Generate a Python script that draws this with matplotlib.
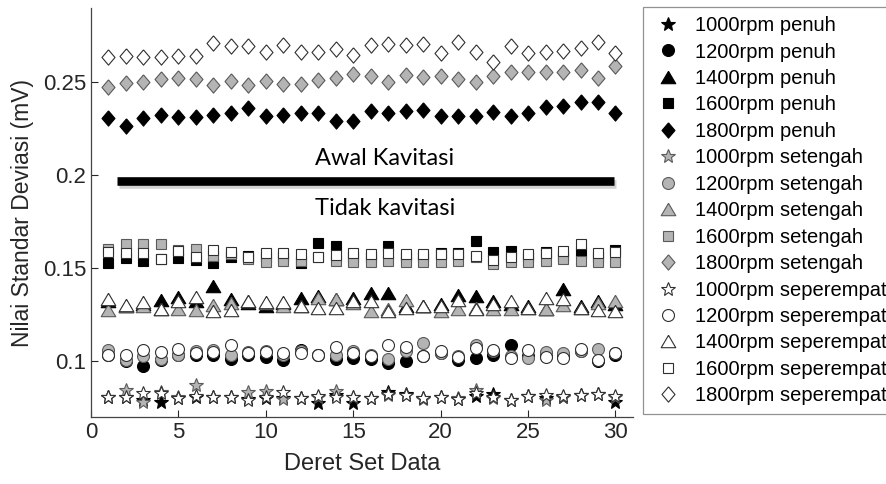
import numpy as np
import matplotlib
matplotlib.use("Agg")
import matplotlib.pyplot as plt
import matplotlib.patheffects as pe

plt.rcParams["font.family"] = ["Liberation Sans", "DejaVu Sans"]

# nomor set data (sumbu x)
data_set = np.arange(1, 31)

# standar deviasi (mV) tiap kecepatan putar, bukaan katup penuh
y1000_penuh = [0.0810, 0.0810, 0.0792, 0.0783, 0.0801, 0.0810, 0.0807, 0.0810, 0.0796, 0.0801,
               0.0801, 0.0801, 0.0778, 0.0819, 0.0778, 0.0801, 0.0832, 0.0825, 0.0801, 0.0807,
               0.0796, 0.0814, 0.0825, 0.0792, 0.0814, 0.0801, 0.0810, 0.0819, 0.0825, 0.0783]
y1200_penuh = [0.1036, 0.1000, 0.0977, 0.1009, 0.1031, 0.1036, 0.1036, 0.1014, 0.1036, 0.1022,
               0.1005, 0.1063, 0.1031, 0.1013, 0.1018, 0.1013, 0.0991, 0.1000, 0.1027, 0.1042,
               0.1009, 0.1018, 0.1036, 0.1085, 0.1027, 0.1027, 0.1027, 0.1054, 0.1000, 0.1031]
y1400_penuh = [0.1325, 0.1298, 0.1307, 0.1330, 0.1348, 0.1325, 0.1404, 0.1334, 0.1316, 0.1298,
               0.1316, 0.1339, 0.1352, 0.1334, 0.1338, 0.1366, 0.1366, 0.1298, 0.1298, 0.1307,
               0.1356, 0.1352, 0.1325, 0.1307, 0.1298, 0.1280, 0.1386, 0.1298, 0.1325, 0.1307]
y1600_penuh = [0.1527, 0.1554, 0.1541, 0.1550, 0.1556, 0.1545, 0.1527, 0.1559, 0.1568, 0.1559,
               0.1559, 0.1531, 0.1637, 0.1622, 0.1559, 0.1559, 0.1622, 0.1559, 0.1559, 0.1581,
               0.1581, 0.1647, 0.1590, 0.1595, 0.1559, 0.1586, 0.1568, 0.1586, 0.1559, 0.1599]
y1800_penuh = [0.2306, 0.2266, 0.2306, 0.2324, 0.2315, 0.2315, 0.2324, 0.2335, 0.2362, 0.2317,
               0.2324, 0.2335, 0.2338, 0.2293, 0.2293, 0.2347, 0.2335, 0.2347, 0.2351, 0.2320,
               0.2317, 0.2320, 0.2342, 0.2317, 0.2335, 0.2365, 0.2374, 0.2392, 0.2396, 0.2335]

# bukaan katup setengah
y1000_setengah = [0.0810, 0.0847, 0.0783, 0.0832, 0.0807, 0.0874, 0.0807, 0.0810, 0.0832, 0.0838,
                  0.0796, 0.0801, 0.0810, 0.0838, 0.0807, 0.0801, 0.0819, 0.0819, 0.0796, 0.0807,
                  0.0801, 0.0847, 0.0801, 0.0792, 0.0814, 0.0789, 0.0810, 0.0819, 0.0825, 0.0807]
y1200_setengah = [0.1060, 0.1009, 0.1027, 0.1013, 0.1031, 0.1054, 0.1060, 0.1036, 0.1049, 0.1054,
                  0.1036, 0.1054, 0.1031, 0.1031, 0.1054, 0.1036, 0.1013, 0.1054, 0.1099, 0.1045,
                  0.1027, 0.1090, 0.1054, 0.1027, 0.1018, 0.1049, 0.1045, 0.1054, 0.1067, 0.1045]
y1400_setengah = [0.1278, 0.1298, 0.1296, 0.1283, 0.1280, 0.1276, 0.1300, 0.1312, 0.1325, 0.1316,
                  0.1298, 0.1298, 0.1338, 0.1334, 0.1316, 0.1271, 0.1280, 0.1329, 0.1298, 0.1271,
                  0.1283, 0.1289, 0.1280, 0.1283, 0.1289, 0.1280, 0.1301, 0.1289, 0.1312, 0.1325]
y1600_setengah = [0.1604, 0.1631, 0.1631, 0.1633, 0.1599, 0.1604, 0.1568, 0.1577, 0.1550, 0.1536,
                  0.1541, 0.1538, 0.1559, 0.1541, 0.1532, 0.1536, 0.1541, 0.1536, 0.1536, 0.1536,
                  0.1538, 0.1559, 0.1523, 0.1536, 0.1536, 0.1540, 0.1550, 0.1541, 0.1532, 0.1532]
y1800_setengah = [0.2473, 0.2496, 0.2500, 0.2518, 0.2522, 0.2518, 0.2486, 0.2509, 0.2486, 0.2509,
                  0.2491, 0.2491, 0.2514, 0.2522, 0.2547, 0.2536, 0.2500, 0.2540, 0.2527, 0.2532,
                  0.2518, 0.2504, 0.2532, 0.2558, 0.2558, 0.2558, 0.2558, 0.2568, 0.2522, 0.2590]

# bukaan katup seperempat
y1000_seperempat = [0.0807, 0.0810, 0.0829, 0.0829, 0.0801, 0.0814, 0.0807, 0.0810, 0.0792, 0.0807,
                    0.0832, 0.0801, 0.0814, 0.0810, 0.0810, 0.0801, 0.0825, 0.0819, 0.0801, 0.0807,
                    0.0796, 0.0829, 0.0810, 0.0792, 0.0814, 0.0819, 0.0814, 0.0819, 0.0825, 0.0814]
y1200_seperempat = [0.1032, 0.1031, 0.1060, 0.1052, 0.1067, 0.1042, 0.1049, 0.1085, 0.1045, 0.1051,
                    0.1042, 0.1042, 0.1031, 0.1078, 0.1045, 0.1027, 0.1090, 0.1078, 0.1027, 0.1054,
                    0.1023, 0.1072, 0.1060, 0.1018, 0.1060, 0.1022, 0.1018, 0.1067, 0.1009, 0.1045]
y1400_seperempat = [0.1334, 0.1301, 0.1320, 0.1280, 0.1325, 0.1345, 0.1271, 0.1276, 0.1325, 0.1320,
                    0.1321, 0.1298, 0.1289, 0.1289, 0.1325, 0.1325, 0.1271, 0.1289, 0.1298, 0.1298,
                    0.1330, 0.1280, 0.1310, 0.1325, 0.1289, 0.1338, 0.1334, 0.1289, 0.1274, 0.1271]
y1600_seperempat = [0.1586, 0.1583, 0.1581, 0.1550, 0.1592, 0.1559, 0.1601, 0.1590, 0.1563, 0.1581,
                    0.1581, 0.1579, 0.1561, 0.1572, 0.1581, 0.1579, 0.1583, 0.1579, 0.1579, 0.1577,
                    0.1577, 0.1565, 0.1545, 0.1559, 0.1579, 0.1581, 0.1592, 0.1628, 0.1583, 0.1590]
y1800_seperempat = [0.2635, 0.2640, 0.2635, 0.2635, 0.2640, 0.2640, 0.2712, 0.2694, 0.2694, 0.2662,
                    0.2701, 0.2665, 0.2662, 0.2680, 0.2647, 0.2701, 0.2707, 0.2701, 0.2707, 0.2658,
                    0.2716, 0.2662, 0.2608, 0.2698, 0.2658, 0.2665, 0.2671, 0.2683, 0.2716, 0.2658]

rpm_labels = ["1000rpm", "1200rpm", "1400rpm", "1600rpm", "1800rpm"]
bukaan_labels = ["penuh", "setengah", "seperempat"]

# batas awal kavitasi
batas_kavitasi = 0.197
batas_x = [1.47, 29.9]

# bentuk marker: bintang, lingkaran, segitiga, kotak, belah ketupat
diamond = [(0, 1), (0.85, 0), (0, -1), (-0.85, 0), (0, 1)]
triangle = [(0, 0.85), (1, -0.85), (-1, -0.85), (0, 0.85)]
markers = ["*", "o", triangle, "s", diamond]
msizes = [10.8, 8.6, 10.5, 7.6, 11]

# warna isi dan garis tepi tiap bukaan
faces = ["black", "#b4b4b4", "white"]
edges = ["black", "#5a5a5a", "#303030"]

series = [
    [y1000_penuh, y1200_penuh, y1400_penuh, y1600_penuh, y1800_penuh],
    [y1000_setengah, y1200_setengah, y1400_setengah, y1600_setengah, y1800_setengah],
    [y1000_seperempat, y1200_seperempat, y1400_seperempat, y1600_seperempat, y1800_seperempat],
]

fig = plt.figure(figsize=(8.86, 4.84), dpi=100)
ax = fig.add_axes([0.1027, 0.1384, 0.6117, 0.845])

for b, group in enumerate(series):
    for r, values in enumerate(group):
        ax.plot(data_set, values, linestyle="none", marker=markers[r], markersize=msizes[r],
                markerfacecolor=faces[b], markeredgecolor=edges[b], markeredgewidth=0.8,
                label=f"{rpm_labels[r]} {bukaan_labels[b]}")

# garis batas kavitasi dengan bayangan
ax.plot(batas_x, [batas_kavitasi, batas_kavitasi], color="black", linewidth=6.2,
        solid_capstyle="butt",
        path_effects=[pe.SimpleLineShadow(offset=(1.5, -2.5), shadow_color="gray", alpha=0.35),
                      pe.Normal()])
ax.text(16.8, 0.2092, "Awal Kavitasi", ha="center", va="center", fontsize=17,
        family=["Lato", "DejaVu Sans"], color="black")
ax.text(16.85, 0.1820, "Tidak kavitasi", ha="center", va="center", fontsize=17,
        family=["Lato", "DejaVu Sans"], color="black")

ax.set_xlim(0, 31)
ax.set_ylim(0.07, 0.29)
ax.set_xticks([0, 5, 10, 15, 20, 25, 30])
ax.set_yticks([0.1, 0.15, 0.2, 0.25])
ax.set_yticklabels(["0.1", "0.15", "0.2", "0.25"])
ax.tick_params(direction="in", length=5, width=0.8, labelsize=16, colors="#262626")
for side in ["top", "right"]:
    ax.spines[side].set_visible(False)
for side in ["left", "bottom"]:
    ax.spines[side].set_color("#444444")
    ax.spines[side].set_linewidth(0.9)

ax.set_xlabel("Deret Set Data", fontsize=17, color="#262626", labelpad=7)
ax.set_ylabel("Nilai Standar Deviasi (mV)", fontsize=16.5, color="#262626", labelpad=6)

leg = fig.legend(loc="upper left", bbox_to_anchor=(643 / 886, 1 - 7 / 484), fontsize=14.5,
                 frameon=True, fancybox=False, borderpad=0.45, labelspacing=0.37,
                 handlelength=1.6, handletextpad=0.55, borderaxespad=0)
leg.get_frame().set_edgecolor("#777777")
leg.get_frame().set_linewidth(0.9)

fig.savefig("out.png", dpi=100)
